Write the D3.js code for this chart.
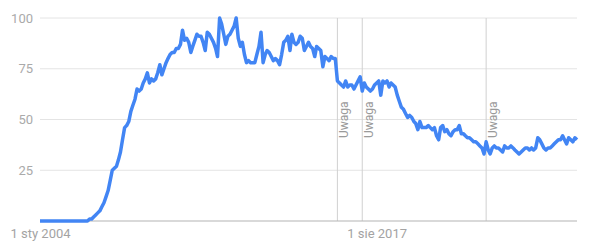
<!DOCTYPE html>
<html>
<head>
<meta charset="utf-8">
<script src="https://cdn.jsdelivr.net/npm/d3@7"></script>
<style>
  body { margin: 0; background: #fff; }
  text { font-family: Roboto, Arial, sans-serif; }
</style>
</head>
<body>
<svg></svg>
<script>
// monthly interest, first value = January 2004
let startMonth = '2004-01-01'
let values = [
  0,0,0,0,0,0,0,0,0,0,0,0,0,0,0,0,0,0,0,0,
  0,0,0,0,1,1,2,3,4,5,7,9,12,15,20,25,26,27,30,34,
  40,46,47,49,54,57,60,65,64,65,68,70,73,68,70,69,70,73,77,72,
  75,78,80,82,83,83,85,85,87,94,89,90,88,83,86,89,92,91,91,88,
  84,93,92,90,88,85,81,100,97,92,87,91,92,94,96,100,90,86,88,82,
  78,79,78,78,78,82,86,93,78,82,84,83,81,79,80,79,77,82,88,89,
  91,84,92,88,87,88,91,90,84,86,88,86,85,81,86,85,84,76,81,80,
  79,81,80,80,69,68,67,66,69,66,67,67,65,67,69,71,64,68,66,65,
  64,65,67,68,69,62,69,68,69,66,68,67,66,62,59,56,55,53,51,52,
  51,49,48,45,49,46,46,46,47,46,45,46,42,40,46,47,44,45,43,42,
  44,45,45,47,43,43,42,41,41,40,39,39,38,37,36,33,39,35,33,36,
  37,36,36,35,34,37,36,36,37,36,35,34,33,34,35,36,36,35,36,35,
  36,41,40,38,36,35,36,36,37,38,39,40,40,42,40,38,41,40,39,41,
  40
]
let yTicks = [25, 50, 75, 100]
let xTickDates = ['2004-01-01', '2017-08-01']
let xTickLabels = ['1 sty 2004', '1 sie 2017']
let noteDates = ['2016-01-01', '2017-01-01', '2022-01-01']
let noteLabel = 'Uwaga'

let width = 590
let height = 250
let plotLeft = 40
let plotRight = 577
let plotTop = 18
let plotBottom = 221

let parse = d3.timeParse('%Y-%m-%d')
let start = parse(startMonth)
let data = values.map((v, i) => ({ date: d3.timeMonth.offset(start, i), value: v }))

let svg = d3.select('svg').attr('width', width).attr('height', height)

let xScale = d3.scaleTime()
  .domain([start, data[data.length - 1].date])
  .range([plotLeft, plotRight])

let yScale = d3.scaleLinear()
  .domain([0, 100])
  .range([plotBottom, plotTop])

// horizontal grid
svg.append('g')
  .selectAll('line')
  .data(yTicks)
  .enter()
  .append('line')
  .attr('x1', plotLeft)
  .attr('x2', plotRight)
  .attr('y1', d => yScale(d))
  .attr('y2', d => yScale(d))
  .attr('stroke', '#e4e4e4')
  .attr('stroke-width', 1)

// y labels
svg.append('g')
  .selectAll('text')
  .data(yTicks)
  .enter()
  .append('text')
  .attr('x', 33)
  .attr('y', d => yScale(d))
  .attr('dy', '0.35em')
  .attr('text-anchor', 'end')
  .attr('font-size', 13)
  .attr('fill', '#aaaaaa')
  .text(d => d)

// note lines
let notes = svg.append('g')
  .selectAll('g')
  .data(noteDates)
  .enter()
  .append('g')

notes.append('line')
  .attr('x1', d => xScale(parse(d)))
  .attr('x2', d => xScale(parse(d)))
  .attr('y1', plotTop)
  .attr('y2', plotBottom)
  .attr('stroke', '#d0d0d0')
  .attr('stroke-width', 1)

notes.append('text')
  .attr('transform', d => 'translate(' + (xScale(parse(d)) + 11) + ',138) rotate(-90)')
  .attr('font-size', 12)
  .attr('fill', '#9a9a9a')
  .text(noteLabel)

// x axis baseline + labels
let xAxis = d3.axisBottom(xScale)
  .tickValues(xTickDates.map(parse))
  .tickFormat((d, i) => xTickLabels[i])
  .tickSize(0)
  .tickPadding(8)

let gx = svg.append('g')
  .attr('transform', 'translate(0,' + plotBottom + ')')
  .call(xAxis)

gx.select('.domain')
  .attr('d', 'M' + plotLeft + ',0H' + plotRight)
  .attr('stroke', '#b3b3b3')
  .attr('stroke-width', 1.2)

gx.selectAll('text')
  .attr('font-family', 'Roboto, Arial, sans-serif')
  .attr('font-size', 13)
  .attr('fill', '#a3a3a3')

// line
let line = d3.line()
  .x(d => xScale(d.date))
  .y(d => yScale(d.value))

svg.append('path')
  .datum(data)
  .attr('d', line)
  .attr('fill', 'none')
  .attr('stroke', '#4285f4')
  .attr('stroke-width', 3.5)
  .attr('stroke-linejoin', 'round')
</script>
</body>
</html>
